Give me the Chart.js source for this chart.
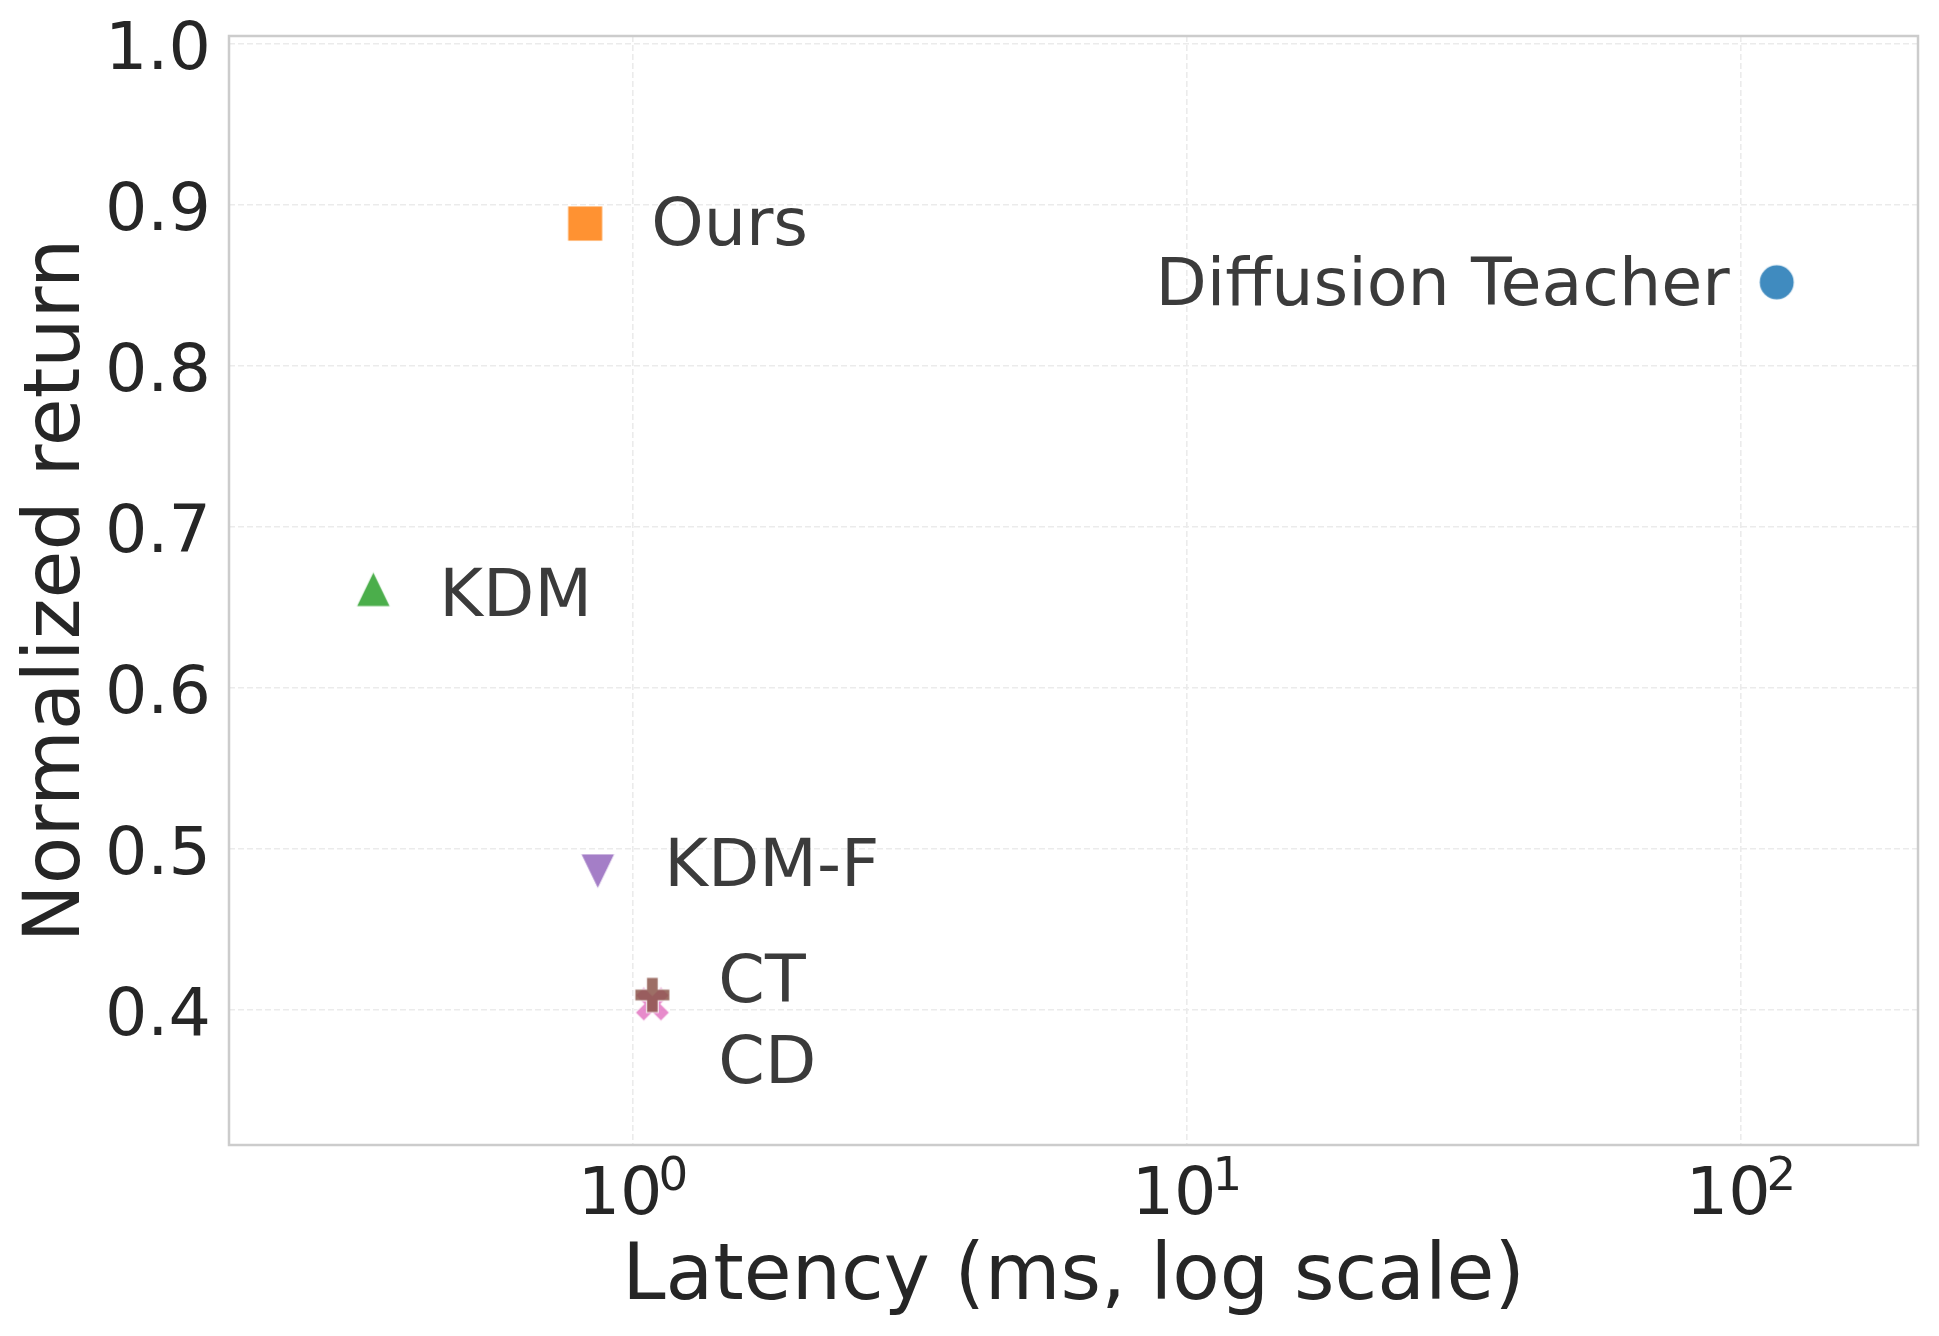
<!DOCTYPE html>
<html>
<head>
<meta charset="utf-8">
<title>Normalized return vs latency</title>
<script src="https://cdn.jsdelivr.net/npm/chart.js@4.4.1/dist/chart.umd.min.js"></script>
<style>
  html, body { margin: 0; padding: 0; background: #ffffff; }
  #wrap { width: 1939px; height: 1336px; }
</style>
</head>
<body>
<div id="wrap"><canvas id="chart" width="1939" height="1336"></canvas></div>
<script>
// data
const methods = ['Diffusion Teacher', 'Ours', 'KDM', 'KDM-F', 'CT', 'CD'];
const latencyMs = [116, 0.82, 0.34, 0.864, 1.084, 1.084];
const normReturn = [0.852, 0.8885, 0.6615, 0.486, 0.4093, 0.4037];

const xTicks = [1, 10, 100];
const xTickExp = ['0', '1', '2'];
const yTicks = [0.4, 0.5, 0.6, 0.7, 0.8, 0.9, 1.0];

// styling
const colors = ['#1f77b4', '#ff7f0e', '#2ca02c', '#9467bd', '#8c564b', '#e377c2'];
const shapes = ['circle', 'square', 'triUp', 'triDown', 'plus', 'x'];
// label offsets from the marker centre, px: [dx, dy of baseline]
const labelOffsets = [[-47, 23], [66, 21.5], [66, 27], [66.5, 15], [66, 7], [66, 79]];
const FONT = '"DejaVu Sans", "Liberation Sans", sans-serif';

function makeMarker(shape, color) {
  const s = 35, pad = 4;
  const c = document.createElement('canvas');
  c.width = c.height = s + pad * 2;
  const g = c.getContext('2d');
  const m = c.width / 2, h = s / 2;
  g.globalAlpha = 0.85;
  g.beginPath();
  if (shape === 'circle') {
    g.arc(m, m, h, 0, Math.PI * 2);
  } else if (shape === 'square') {
    g.rect(m - h, m - h, s, s);
  } else if (shape === 'triUp') {
    g.moveTo(m, m - h); g.lineTo(m + h * 0.97, m + h); g.lineTo(m - h * 0.97, m + h);
  } else if (shape === 'triDown') {
    g.moveTo(m, m + h); g.lineTo(m + h * 0.97, m - h); g.lineTo(m - h * 0.97, m - h);
  } else {
    // filled plus, rotated for 'x'
    const t = s / 6, r = h;
    const pts = [[-t, -r], [t, -r], [t, -t], [r, -t], [r, t], [t, t], [t, r], [-t, r], [-t, t], [-r, t], [-r, -t], [-t, -t]];
    const a = shape === 'x' ? Math.PI / 4 : 0;
    const k = shape === 'x' ? 1.04 : 1;
    pts.forEach(([px, py], i) => {
      const qx = m + k * (px * Math.cos(a) - py * Math.sin(a));
      const qy = m + k * (px * Math.sin(a) + py * Math.cos(a));
      if (i === 0) g.moveTo(qx, qy); else g.lineTo(qx, qy);
    });
  }
  g.closePath();
  g.fillStyle = color;
  g.fill();
  g.lineWidth = 1.2;
  g.strokeStyle = '#ffffff';
  g.stroke();
  return c;
}

const datasets = methods.map((name, i) => ({
  label: name,
  data: [{ x: latencyMs[i], y: normReturn[i] }],
  pointStyle: makeMarker(shapes[i], colors[i]),
  pointRadius: 18,
  pointHoverRadius: 18
}));

const textPlugin = {
  id: 'textPlugin',
  beforeDatasetsDraw(chart) {
    const { ctx, chartArea: a } = chart;
    ctx.save();
    ctx.strokeStyle = '#cccccc';
    ctx.lineWidth = 2.5;
    ctx.strokeRect(a.left, a.top, a.right - a.left, a.bottom - a.top);
    ctx.restore();
  },
  afterDraw(chart) {
    const { ctx, chartArea: a, scales } = chart;
    const xs = scales.x, ys = scales.y;
    ctx.save();
    ctx.fillStyle = '#262626';
    ctx.textBaseline = 'alphabetic';

    // y tick labels
    ctx.font = '66.7px ' + FONT;
    ctx.textAlign = 'right';
    yTicks.forEach(v => {
      ctx.fillText(v.toFixed(1), a.left - 18, ys.getPixelForValue(v) + 25);
    });

    // x tick labels as 10^n
    ctx.textAlign = 'left';
    xTicks.forEach((v, i) => {
      const px = xs.getPixelForValue(v);
      ctx.font = '66.7px ' + FONT;
      const wb = ctx.measureText('10').width;
      ctx.font = '46.7px ' + FONT;
      const we = ctx.measureText(xTickExp[i]).width;
      const x0 = px - (wb + we - 4) / 2;
      ctx.font = '66.7px ' + FONT;
      ctx.fillText('10', x0, a.bottom + 69);
      ctx.font = '46.7px ' + FONT;
      ctx.fillText(xTickExp[i], x0 + wb - 4, a.bottom + 45);
    });

    // axis titles
    ctx.font = '77.8px ' + FONT;
    ctx.textAlign = 'center';
    ctx.fillText('Latency (ms, log scale)', (a.left + a.right) / 2, a.bottom + 154);
    ctx.save();
    ctx.translate(79, (a.top + a.bottom) / 2);
    ctx.rotate(-Math.PI / 2);
    ctx.fillText('Normalized return', 0, 0);
    ctx.restore();

    // point labels
    ctx.fillStyle = '#3b3b3b';
    ctx.font = '66.7px ' + FONT;
    methods.forEach((name, i) => {
      const px = xs.getPixelForValue(latencyMs[i]);
      const py = ys.getPixelForValue(normReturn[i]);
      const [dx, dy] = labelOffsets[i];
      ctx.textAlign = dx < 0 ? 'right' : 'left';
      ctx.fillText(name, px + dx, py + dy);
    });
    ctx.restore();
  }
};

new Chart(document.getElementById('chart'), {
  type: 'scatter',
  data: { datasets },
  options: {
    responsive: false,
    devicePixelRatio: 1,
    animation: false,
    layout: { padding: { top: 36, right: 21, left: 0, bottom: 0 } },
    plugins: { legend: { display: false }, tooltip: { enabled: false } },
    scales: {
      x: {
        type: 'logarithmic',
        min: 0.1866,
        max: 208.7,
        afterBuildTicks: s => { s.ticks = xTicks.map(v => ({ value: v })); },
        afterFit: s => { s.height = 191; },
        ticks: { display: false },
        grid: { color: '#ebebeb', lineWidth: 1.6, drawTicks: false },
        border: { display: false, dash: [6, 3] }
      },
      y: {
        type: 'linear',
        min: 0.3161,
        max: 1.005,
        afterBuildTicks: s => { s.ticks = yTicks.map(v => ({ value: v })); },
        afterFit: s => { s.width = 229; },
        ticks: { display: false },
        grid: { color: '#ebebeb', lineWidth: 1.6, drawTicks: false },
        border: { display: false, dash: [6, 3] }
      }
    }
  },
  plugins: [textPlugin]
});
</script>
</body>
</html>
